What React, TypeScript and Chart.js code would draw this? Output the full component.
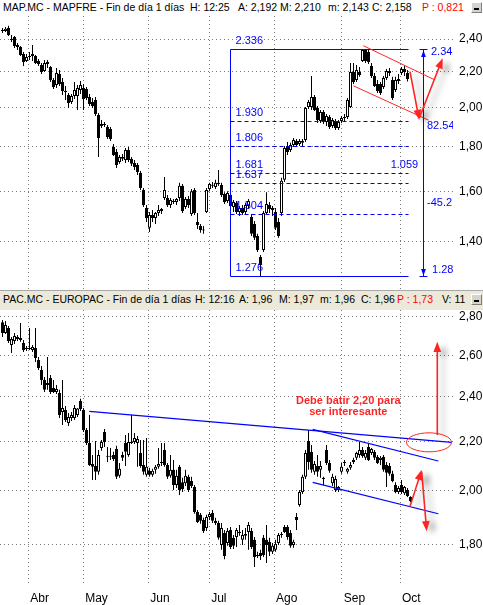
import React, { useEffect, useRef } from 'react';
import { Chart, registerables } from 'chart.js';

Chart.register(...registerables);

// MAP.MC - MAPFRE, daily candles (open / high / low / close)
const mapOpen = [2.459,2.452,2.472,2.400,2.413,2.362,2.349,2.306,2.264,2.288, 2.294,2.294,2.264,2.240,2.204,2.246,2.228,2.152,2.123,2.187, 2.141,2.084,2.068,2.029,2.062,2.062,2.095,2.106,2.101,2.057, 2.029,2.040,1.960,1.904,1.909,1.899,1.889,1.800,1.776,1.730, 1.753,1.739,1.786,1.744,1.725,1.716,1.680,1.605,1.530,1.451, 1.502,1.490,1.510,1.518,1.571,1.571,1.542,1.559,1.555,1.571, 1.623,1.534,1.567,1.506,1.605,1.474,1.458,1.441,1.514,1.609, 1.627,1.618,1.631,1.627,1.588,1.559,1.584,1.534,1.550,1.514, 1.530,1.514,1.538,1.494,1.466,1.420,1.343,1.368,1.510,1.542, 1.522,1.514,1.474,1.510,1.649,1.805,1.786,1.810,1.829,1.815, 1.829,1.834,2.003,2.003,2.057,1.997,1.929,1.976,1.924,1.950, 1.904,1.929,1.894,1.929,1.945,1.950,2.003,2.198,2.152,2.198, 2.264,2.331,2.319,2.234,2.175,2.129,2.129,2.112,2.164,2.204, 2.152,2.095,2.158,2.192,2.216,2.192];
const mapHigh = [2.472,2.479,2.486,2.426,2.420,2.375,2.356,2.319,2.306,2.319, 2.362,2.300,2.276,2.252,2.270,2.270,2.234,2.164,2.222,2.210, 2.164,2.118,2.079,2.073,2.141,2.123,2.146,2.129,2.112,2.073, 2.051,2.057,1.971,1.934,1.924,1.909,1.899,1.815,1.791,1.762, 1.767,1.795,1.800,1.753,1.739,1.725,1.689,1.614,1.542,1.514, 1.522,1.514,1.542,1.530,1.662,1.584,1.571,1.567,1.571,1.636, 1.631,1.575,1.580,1.609,1.614,1.510,1.466,1.458,1.614,1.636, 1.640,1.649,1.693,1.636,1.596,1.600,1.592,1.563,1.559,1.538, 1.542,1.550,1.567,1.506,1.478,1.428,1.350,1.518,1.596,1.555, 1.538,1.530,1.490,1.658,1.805,1.824,1.820,1.844,1.839,1.839, 1.839,2.003,2.040,2.175,2.068,2.008,1.987,1.987,1.966,1.960, 1.945,1.940,1.934,1.955,1.966,2.051,2.252,2.252,2.240,2.228, 2.336,2.336,2.331,2.252,2.192,2.152,2.141,2.175,2.216,2.222, 2.170,2.170,2.187,2.228,2.234,2.210];
const mapLow = [2.439,2.446,2.420,2.381,2.343,2.331,2.294,2.234,2.258,2.270, 2.264,2.246,2.234,2.187,2.198,2.222,2.141,2.101,2.106,2.118, 2.068,2.040,1.997,2.018,2.046,1.987,2.073,1.987,2.040,2.008, 1.997,1.955,1.753,1.894,1.899,1.839,1.829,1.757,1.702,1.721, 1.734,1.725,1.730,1.711,1.693,1.671,1.605,1.534,1.474,1.435, 1.474,1.466,1.498,1.506,1.563,1.534,1.530,1.546,1.542,1.559, 1.510,1.526,1.530,1.498,1.502,1.447,1.432,1.428,1.510,1.600, 1.614,1.609,1.623,1.575,1.546,1.550,1.530,1.514,1.506,1.498, 1.502,1.506,1.526,1.420,1.405,1.361,1.276,1.361,1.502,1.510, 1.498,1.443,1.413,1.498,1.640,1.762,1.776,1.800,1.800,1.805, 1.805,1.824,1.992,1.987,1.981,1.919,1.919,1.914,1.904,1.889, 1.894,1.884,1.884,1.919,1.929,1.940,1.997,2.129,2.141,2.170, 2.258,2.252,2.246,2.164,2.112,2.079,2.068,2.101,2.152,2.175, 2.040,2.084,2.129,2.181,2.175,2.143];
const mapClose = [2.452,2.466,2.426,2.394,2.356,2.349,2.300,2.258,2.288,2.294, 2.306,2.252,2.246,2.198,2.252,2.258,2.152,2.112,2.192,2.129, 2.090,2.087,2.024,2.062,2.095,2.106,2.123,2.046,2.051,2.018, 2.008,1.966,1.844,1.914,1.912,1.849,1.839,1.762,1.716,1.753, 1.744,1.786,1.739,1.721,1.707,1.684,1.614,1.542,1.490,1.502, 1.490,1.510,1.522,1.526,1.605,1.542,1.563,1.555,1.567,1.623, 1.518,1.567,1.542,1.600,1.510,1.462,1.443,1.441,1.605,1.631, 1.623,1.636,1.636,1.584,1.555,1.592,1.538,1.555,1.514,1.530, 1.510,1.542,1.559,1.428,1.413,1.368,1.314,1.510,1.546,1.526, 1.530,1.451,1.420,1.645,1.795,1.776,1.810,1.834,1.810,1.829, 1.820,1.997,2.029,2.057,1.987,1.934,1.976,1.924,1.955,1.899, 1.934,1.894,1.924,1.945,1.950,2.040,2.198,2.141,2.210,2.181, 2.331,2.264,2.258,2.175,2.118,2.090,2.079,2.164,2.204,2.192, 2.051,2.152,2.146,2.216,2.198,2.158];

// PAC.MC - EUROPAC, daily candles (open / high / low / close)
const pacOpen = [2.772,2.714,2.741,2.652,2.673,2.693,2.688,2.662,2.636,2.631, 2.626,2.636,2.576,2.526,2.478,2.454,2.487,2.440,2.421,2.416, 2.329,2.338,2.280,2.302,2.302,2.316,2.379,2.338,2.249,2.193, 2.106,2.098,2.074,2.172,2.240,2.139,2.135,2.143,2.168,2.058, 2.143,2.193,2.143,2.193,2.197,2.193,2.151,2.102,2.062,2.078, 2.062,2.082,2.094,2.110,2.164,2.102,2.058,2.082,2.022,2.094, 2.033,2.029,2.054,2.037,2.014,1.919,1.908,1.889,1.860,1.900, 1.915,1.886,1.878,1.800,1.842,1.807,1.853,1.825,1.828,1.846, 1.818,1.832,1.846,1.849,1.818,1.765,1.772,1.825,1.818,1.811, 1.776,1.783,1.807,1.835,1.864,1.864,1.842,1.800,1.900,1.945, 1.994,2.054,2.202,2.156,2.074,2.098,2.082,2.050,2.164,2.110, 2.029,2.002,2.002,2.074,2.110,2.074,2.090,2.114,2.131,2.143, 2.164,2.131,2.176,2.151,2.156,2.135,2.122,2.135,2.102,2.098, 2.066,2.022,1.994,2.022,1.990,2.002,1.975];
const pacHigh = [2.783,2.778,2.751,2.693,2.714,2.704,2.767,2.678,2.647,2.741, 2.652,2.741,2.591,2.546,2.492,2.591,2.502,2.478,2.454,2.431, 2.478,2.356,2.325,2.329,2.361,2.347,2.389,2.347,2.258,2.316, 2.143,2.202,2.164,2.206,2.254,2.176,2.172,2.156,2.181,2.110, 2.156,2.227,2.236,2.316,2.236,2.223,2.206,2.206,2.214,2.090, 2.086,2.102,2.172,2.193,2.193,2.110,2.143,2.122,2.082,2.102, 2.050,2.082,2.062,2.054,2.022,1.926,1.915,1.897,1.908,1.919, 1.926,1.897,1.886,1.878,1.853,1.860,1.864,1.835,1.860,1.871, 1.853,1.860,1.882,1.860,1.828,1.776,1.783,1.835,1.871,1.825, 1.807,1.818,1.842,1.846,1.871,1.871,1.853,1.818,1.915,2.002, 2.062,2.164,2.249,2.185,2.118,2.143,2.118,2.054,2.185,2.122, 2.066,2.058,2.018,2.110,2.122,2.090,2.114,2.131,2.156,2.197, 2.176,2.164,2.193,2.172,2.164,2.143,2.139,2.143,2.114,2.110, 2.078,2.033,2.018,2.041,2.018,2.010,1.978];
const pacLow = [2.693,2.709,2.662,2.611,2.657,2.673,2.668,2.616,2.621,2.626, 2.616,2.566,2.526,2.454,2.421,2.431,2.412,2.416,2.412,2.302, 2.271,2.284,2.267,2.289,2.293,2.307,2.334,2.240,2.185,2.098, 2.041,2.041,2.062,2.160,2.176,2.114,2.122,2.118,2.045,2.050, 2.118,2.098,2.135,2.189,2.189,2.094,2.090,2.062,2.054,2.054, 2.054,2.066,2.086,2.098,2.094,2.045,2.050,2.002,2.010,1.983, 1.994,2.018,1.994,2.010,1.912,1.878,1.875,1.842,1.849,1.889, 1.878,1.871,1.818,1.783,1.751,1.797,1.786,1.786,1.793,1.832, 1.800,1.818,1.783,1.786,1.725,1.755,1.748,1.758,1.738,1.762, 1.769,1.776,1.800,1.825,1.842,1.818,1.790,1.790,1.853,1.938, 1.987,2.045,2.082,2.070,2.062,2.054,2.050,2.022,2.102,2.070, 2.018,1.994,1.994,2.066,2.098,2.066,2.082,2.106,2.122,2.131, 2.131,2.122,2.118,2.143,2.122,2.106,2.102,2.074,2.014,2.058, 2.033,1.990,1.987,1.987,1.983,1.975,1.955];
const pacClose = [2.714,2.757,2.673,2.683,2.699,2.683,2.678,2.626,2.631,2.636, 2.641,2.586,2.536,2.478,2.431,2.464,2.421,2.421,2.435,2.316, 2.347,2.293,2.307,2.316,2.347,2.345,2.343,2.249,2.193,2.102, 2.094,2.074,2.143,2.197,2.197,2.135,2.139,2.126,2.054,2.086, 2.131,2.156,2.197,2.197,2.214,2.210,2.098,2.074,2.094,2.062, 2.078,2.094,2.106,2.114,2.102,2.054,2.082,2.022,2.058,2.002, 2.006,2.058,2.002,2.018,1.919,1.882,1.886,1.849,1.900,1.911, 1.886,1.878,1.825,1.860,1.762,1.849,1.793,1.797,1.853,1.842, 1.835,1.839,1.871,1.793,1.758,1.762,1.762,1.765,1.800,1.776, 1.797,1.804,1.835,1.839,1.846,1.828,1.797,1.811,1.889,1.994, 2.054,2.151,2.114,2.082,2.106,2.074,2.098,2.045,2.110,2.078, 2.054,2.045,2.014,2.094,2.114,2.086,2.102,2.122,2.151,2.164, 2.139,2.151,2.122,2.168,2.131,2.110,2.131,2.082,2.070,2.066, 2.037,1.994,2.010,1.994,2.014,1.979,1.960];

// Month boundaries on the session axis, and their names
const monthStarts = [8.6, 26.9, 48.6, 68.9, 90.5, 113.1, 132.5];
const monthNames = ['Abr', 'May', 'Jun', 'Jul', 'Ago', 'Sep', 'Oct'];

// Price axis ticks
const mapTicks = [1.4, 1.6, 1.8, 2.0, 2.2, 2.4];
const pacTicks = [1.8, 2.0, 2.2, 2.4, 2.6, 2.8];

// Fibonacci retracement of the MAPFRE swing (high 2.336 -> low 1.276)
const fibLevels = [2.336, 1.930, 1.806, 1.681, 1.637, 1.504, 1.276];

const FONT = '"Liberation Sans", Arial, sans-serif';
const GRID = '#7a7a7a';
const BLUE = '#0000ff';
const RED = '#ff2424';
const X_MIN = -2.5 / 3;
const X_MAX = (453 - 2.5) / 3;

type Px = (v: number) => number;

function seg(ctx: CanvasRenderingContext2D, x1: number, y1: number, x2: number, y2: number) {
  ctx.beginPath();
  ctx.moveTo(x1, y1);
  ctx.lineTo(x2, y2);
  ctx.stroke();
}

function arrow(ctx: CanvasRenderingContext2D, x1: number, y1: number, x2: number, y2: number, len = 11, spread = 0.36) {
  const a = Math.atan2(y2 - y1, x2 - x1);
  // stop the shaft inside the head so the tip stays sharp
  seg(ctx, x1, y1, x2 - (len * 0.6) * Math.cos(a), y2 - (len * 0.6) * Math.sin(a));
  ctx.beginPath();
  ctx.moveTo(x2, y2);
  ctx.lineTo(x2 - len * Math.cos(a - spread), y2 - len * Math.sin(a - spread));
  ctx.lineTo(x2 - len * Math.cos(a + spread), y2 - len * Math.sin(a + spread));
  ctx.closePath();
  ctx.fill();
}

function withShadow(ctx: CanvasRenderingContext2D, fn: () => void) {
  ctx.save();
  ctx.shadowColor = 'rgba(0,0,0,0.35)';
  ctx.shadowBlur = 6;
  ctx.shadowOffsetX = 6;
  ctx.shadowOffsetY = 3;
  fn();
  ctx.restore();
}

function drawMapNotes(ctx: CanvasRenderingContext2D, px: Px, py: Px) {
  const fibFrom = 75.83;
  const fibTo = 135.17;
  const rangeAt = 140.27;
  ctx.lineWidth = 1;
  ctx.strokeStyle = BLUE;
  ctx.fillStyle = BLUE;
  ctx.font = '11px ' + FONT;
  ctx.textAlign = 'left';
  ctx.textBaseline = 'middle';
  const xa = Math.round(px(fibFrom)) + 0.5;
  const xb = Math.round(px(fibTo)) + 0.5;
  const last = fibLevels.length - 1;
  const yTop = Math.round(py(fibLevels[0])) + 0.5;
  const yBot = Math.round(py(fibLevels[last])) + 0.5;
  fibLevels.forEach((lv, k) => {
    const y = Math.round(py(lv)) + 0.5;
    ctx.setLineDash(k === 0 || k === last ? [] : [4, 3]);
    seg(ctx, xa, y, xb, y);
    ctx.fillText(lv.toFixed(3), xa + 5, y - 9);
  });
  ctx.setLineDash([]);
  seg(ctx, xa, yTop, xa, yBot);

  // measured range of the swing
  const xr = Math.round(px(rangeAt)) + 0.5;
  seg(ctx, xr, yTop, xr, yBot);
  seg(ctx, xr - 4, yTop, xr + 4, yTop);
  seg(ctx, xr - 4, yBot, xr + 4, yBot);
  arrow(ctx, xr, yTop + 9, xr, yTop + 1, 7, 0.35);
  arrow(ctx, xr, yBot - 9, xr, yBot - 1, 7, 0.35);
  const rangeNotes: [string, number, number][] = [
    ['2.34', 142.83, 2.32],
    ['82.54', 141.5, 1.904],
    ['1.059', 129.4, 1.716],
    ['-45.2', 141.5, 1.552],
    ['1.28', 143.17, 1.297],
  ];
  rangeNotes.forEach(([t, i, p]) => ctx.fillText(t, px(i), py(p)));

  // bearish channel and expected path
  ctx.strokeStyle = RED;
  ctx.fillStyle = RED;
  seg(ctx, px(120.27), py(2.358), px(144.17), py(2.152));
  seg(ctx, px(116.93), py(2.119), px(141.93), py(1.934));
  withShadow(ctx, () => {
    ctx.strokeStyle = RED;
    ctx.fillStyle = RED;
    ctx.lineWidth = 1.6;
    arrow(ctx, px(135.83), py(2.2), px(138.93), py(1.934));
    arrow(ctx, px(138.93), py(1.945), px(146.73), py(2.281));
  });
}

function drawPacNotes(ctx: CanvasRenderingContext2D, px: Px, py: Px) {
  ctx.strokeStyle = BLUE;
  ctx.lineWidth = 1.2;
  seg(ctx, px(28.93), py(2.332), px(149.73), py(2.196));
  seg(ctx, px(103.4), py(2.252), px(145.27), py(2.118));
  seg(ctx, px(103.4), py(2.032), px(145.27), py(1.912));

  ctx.strokeStyle = RED;
  ctx.lineWidth = 1;
  ctx.beginPath();
  ctx.ellipse(px(142.17), py(2.196), 22.5, 9.5, 0, 0, Math.PI * 2);
  ctx.stroke();

  withShadow(ctx, () => {
    ctx.strokeStyle = RED;
    ctx.fillStyle = RED;
    ctx.lineWidth = 1.6;
    arrow(ctx, px(144.93), py(2.227), px(144.93), py(2.669));
    arrow(ctx, px(135.83), py(1.939), px(139.73), py(2.082));
    arrow(ctx, px(139.73), py(2.075), px(141.4), py(1.848));
  });

  ctx.fillStyle = RED;
  ctx.font = 'bold 11px ' + FONT;
  ctx.textAlign = 'center';
  ctx.textBaseline = 'middle';
  ctx.fillText('Debe batir 2,20 para', px(115.27), py(2.381));
  ctx.fillText('ser interesante', px(115.27), py(2.328));
}

function notesPlugin(draw: (ctx: CanvasRenderingContext2D, px: Px, py: Px) => void) {
  return {
    id: 'notes',
    afterDatasetsDraw(chart: any) {
      const { ctx, chartArea, scales } = chart;
      const px = (v: number) => scales.x.getPixelForValue(v);
      const py = (v: number) => scales.y.getPixelForValue(v);
      ctx.save();
      ctx.beginPath();
      ctx.rect(chartArea.left, chartArea.top, chartArea.right - chartArea.left, chartArea.bottom - chartArea.top);
      ctx.clip();
      draw(ctx, px, py);
      ctx.restore();
    },
  };
}

function candleChart(
  canvas: HTMLCanvasElement,
  o: number[], h: number[], l: number[], c: number[],
  yMin: number, yMax: number, yTicks: number[],
  showMonths: boolean,
  draw: (ctx: CanvasRenderingContext2D, px: Px, py: Px) => void,
) {
  const bodyColors = o.map((v, i) => (c[i] >= v ? '#ffffff' : '#000000'));
  return new Chart(canvas, {
    type: 'bar',
    data: {
      datasets: [
        {
          data: o.map((v, i) => ({ x: i, y: [v, c[i]] })),
          backgroundColor: bodyColors,
          borderColor: '#000000',
          borderWidth: 1,
          borderSkipped: false,
          barThickness: 3,
          minBarLength: 1,
          grouped: false,
          inflateAmount: 0,
          order: 0,
        },
        {
          data: h.map((v, i) => ({ x: i, y: [l[i], v] })),
          backgroundColor: '#000000',
          borderWidth: 0,
          barThickness: 1,
          grouped: false,
          inflateAmount: 0,
          order: 1,
        },
      ],
    } as any,
    options: {
      responsive: false,
      animation: false,
      events: [],
      layout: { padding: 0 },
      plugins: { legend: { display: false }, tooltip: { enabled: false } },
      scales: {
        x: {
          type: 'linear',
          min: X_MIN,
          max: X_MAX,
          bounds: 'data',
          offset: false,
          afterBuildTicks: (s: any) => { s.ticks = monthStarts.map((v) => ({ value: v })); },
          afterFit: (s: any) => { s.height = showMonths ? 22 : 0; s.paddingLeft = 0; s.paddingRight = 0; },
          grid: { color: GRID, lineWidth: 1, drawTicks: false, offset: false },
          border: { display: false, dash: [1, 3] },
          ticks: {
            display: showMonths,
            autoSkip: false,
            maxRotation: 0,
            align: 'start',
            labelOffset: 2,
            padding: 8,
            color: '#000000',
            font: { family: FONT, size: 12 },
            callback: (_v: any, i: number) => monthNames[i],
          },
        },
        y: {
          type: 'logarithmic',
          position: 'right',
          min: yMin,
          max: yMax,
          bounds: 'data',
          afterBuildTicks: (s: any) => { s.ticks = yTicks.map((v) => ({ value: v })); },
          afterFit: (s: any) => { s.width = 30; s.paddingTop = 0; s.paddingBottom = 0; },
          grid: { color: GRID, lineWidth: 1, drawTicks: false },
          border: { display: false, dash: [1, 3] },
          ticks: {
            color: '#000000',
            padding: 6,
            font: { family: FONT, size: 12 },
            callback: (v: any) => Number(v).toFixed(2).replace('.', ','),
          },
        },
      },
    } as any,
    plugins: [notesPlugin(draw)],
  });
}

type Token = [string, number, string?];

const mapHeader: Token[] = [
  ['MAP.MC - MAPFRE - Fin de día 1 días', 3],
  ['H: 12:25', 190],
  ['A: 2,192', 238],
  ['M: 2,210', 280],
  ['m: 2,143', 328],
  ['C: 2,158', 372],
  ['P : 0,821', 422, '#ff0000'],
];

const pacHeader: Token[] = [
  ['PAC.MC - EUROPAC - Fin de día 1 días', 3],
  ['H: 12:16', 195],
  ['A: 1,96', 239],
  ['M: 1,97', 279],
  ['m: 1,96', 320],
  ['C: 1,96', 361],
  ['P : 1,73', 397, '#ff0000'],
  ['V: 11', 442],
];

function Header({ top, height, tokens, background, textTop, border }: { top: number; height: number; tokens: Token[]; background: string; textTop: number; border?: string }) {
  return (
    <div style={{ position: 'absolute', left: 0, top, width: 483, height, background, borderTop: border, boxSizing: 'border-box', font: '10.5px ' + FONT, lineHeight: '12px' }}>
      {tokens.map(([t, x, color]) => (
        <span key={t} style={{ position: 'absolute', left: x, top: textTop, color: color || '#000000', whiteSpace: 'pre' }}>{t}</span>
      ))}
      <div style={{ position: 'absolute', left: 471, top: textTop + 1, width: 9, height: 9, background: '#d6d3ce', borderTop: '1px solid #ffffff', borderLeft: '1px solid #ffffff', borderRight: '1px solid #808080', borderBottom: '1px solid #808080' }}>
        <div style={{ position: 'absolute', left: 2, top: 5, width: 5, height: 2, background: '#000000' }} />
      </div>
    </div>
  );
}

export default function App() {
  const topRef = useRef<HTMLCanvasElement>(null);
  const botRef = useRef<HTMLCanvasElement>(null);

  useEffect(() => {
    if (!topRef.current || !botRef.current) return;
    const top = candleChart(topRef.current, mapOpen, mapHigh, mapLow, mapClose, 1.2296, 2.552, mapTicks, false, drawMapNotes);
    const bottom = candleChart(botRef.current, pacOpen, pacHigh, pacLow, pacClose, 1.672, 2.838, pacTicks, true, drawPacNotes);
    return () => {
      top.destroy();
      bottom.destroy();
    };
  }, []);

  return (
    <div style={{ position: 'absolute', left: 0, top: 0, width: 483, height: 605, background: '#ffffff', overflow: 'hidden' }}>
      <Header top={0} height={16} tokens={mapHeader} background="#ffffff" textTop={1} />
      <canvas ref={topRef} width={483} height={274} style={{ position: 'absolute', left: 0, top: 16 }} />
      <Header top={290} height={20} tokens={pacHeader} background="#ece9d8" textTop={2} border="1px solid #a8a8a8" />
      <canvas ref={botRef} width={483} height={295} style={{ position: 'absolute', left: 0, top: 310 }} />
    </div>
  );
}
